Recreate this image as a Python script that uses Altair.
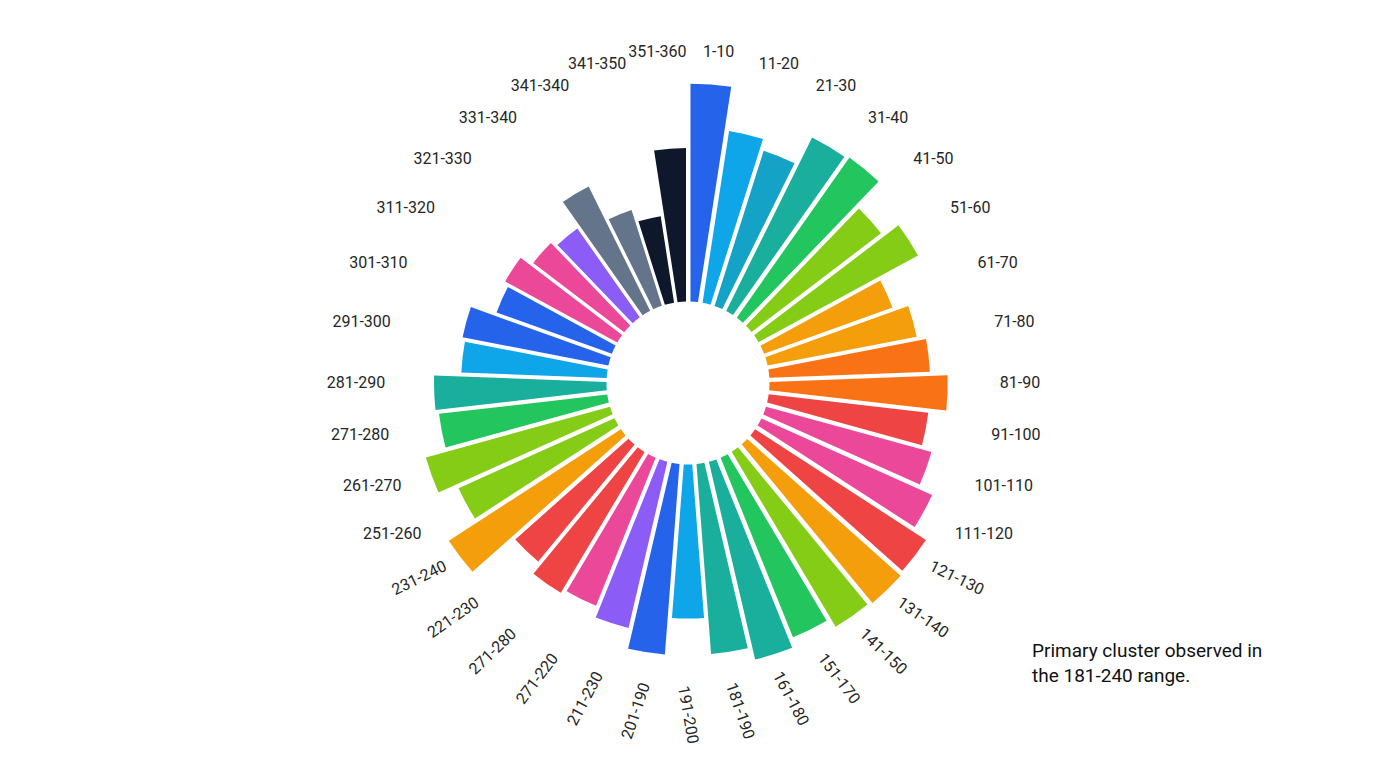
import altair as alt
import pandas as pd
import math

# ---- data ----
bar_values = [99, 79, 74, 88, 89, 74, 82.5, 62, 69, 73, 81, 73, 78, 85, 92.5,
              93.4, 92.5, 88, 92.3, 86.6, 70, 86.8, 77.5, 72.5, 74.5, 68.9, 93.2,
              77.7, 86.8, 77, 78.4, 66.1, 67.5, 55.7, 58, 52, 49.3, 63, 45.7,
              39.8, 69.8]
bar_groups = ["blue", "sky", "cyan", "teal", "green", "lime", "lime", "amber",
              "amber", "orange", "orange", "red", "pink", "pink", "red", "amber",
              "lime", "green", "teal", "teal", "sky", "blue", "violet", "pink",
              "red", "red", "amber", "lime", "lime", "green", "teal", "sky",
              "blue", "blue", "pink", "pink", "violet", "slate", "slate", "navy",
              "navy"]
labels = ["1-10", "11-20", "21-30", "31-40", "41-50", "51-60", "61-70", "71-80",
          "81-90", "91-100", "101-110", "111-120", "121-130", "131-140",
          "141-150", "151-170", "161-180", "181-190", "191-200", "201-190",
          "211-230", "271-220", "271-280", "221-230", "231-240", "251-260",
          "261-270", "271-280", "281-290", "291-300", "301-310", "311-320",
          "321-330", "331-340", "341-340", "341-350", "351-360"]
note_lines = ["Primary cluster observed in", "the 181-240 range."]

# ---- style ----
group_names = ["blue", "sky", "cyan", "teal", "green", "lime", "amber", "orange",
               "red", "pink", "violet", "slate", "navy"]
group_colors = ["#2563eb", "#0ea5e9", "#14a3c7", "#1aaf9d", "#22c55e", "#84cc16",
                "#f59e0b", "#f97316", "#ef4444", "#ec4899", "#8b5cf6", "#64748b",
                "#0f172a"]
R0 = 81.5
n_bars = len(bar_values)
n_labels = len(labels)

bars_df = pd.DataFrame({"idx": list(range(n_bars)),
                        "value": bar_values, "group": bar_groups})
labels_df = pd.DataFrame({"idx": list(range(n_labels)), "label": labels})
note_df = pd.DataFrame({"k": [0]})

bars = alt.Chart(bars_df).transform_calculate(
    t0="datum.idx", t1="datum.idx + 1"
).mark_arc(innerRadius=R0, padAngle=0.016).encode(
    theta=alt.Theta("t0:Q", scale=alt.Scale(domain=[0, n_bars], range=[0, 2 * math.pi],
                                            zero=False, nice=False)),
    theta2="t1:Q",
    radius=alt.Radius("value:Q", scale=alt.Scale(type="linear", domain=[0, 100],
                                                 range=[R0, 301.5]), stack=False),
    color=alt.Color("group:N", scale=alt.Scale(domain=group_names, range=group_colors),
                    legend=None),
)

# label ring: quarter-wise spacing as in the reference layout
q1, q2, q3 = 8.5, 18.5, 28.5
deg_expr = (
    f"datum.p < {q1} ? datum.p / {q1} * 90 : "
    f"(datum.p < {q2} ? 90 + (datum.p - {q1}) / ({q2} - {q1}) * 90 : "
    f"(datum.p < {q3} ? 180 + (datum.p - {q2}) / ({q3} - {q2}) * 90 : "
    f"270 + (datum.p - {q3}) / ({n_labels} - {q3}) * 90))"
)

text = alt.Chart(labels_df).transform_calculate(
    p="datum.idx + 0.5"
).transform_calculate(
    deg=deg_expr
).transform_calculate(
    rot="datum.deg > 120 && datum.deg <= 180 ? datum.deg - 100 : "
        "(datum.deg > 180 && datum.deg < 240 ? datum.deg + 100 : 0)"
).mark_text(
    radius=332, font="Roboto", fontSize=16, color="#262626",
    align="center", baseline="middle"
).encode(
    theta=alt.Theta("deg:Q", scale=alt.Scale(domain=[0, 360], range=[0, 2 * math.pi],
                                             zero=False, nice=False)),
    text="label:N",
    angle=alt.Angle("rot:Q", scale=None),
)

note = alt.Chart(note_df).mark_text(
    align="left", baseline="alphabetic", font="Roboto", fontSize=19,
    lineHeight=25, color="#111111", text=note_lines
).encode(x=alt.value(1024), y=alt.value(649))

chart = alt.layer(bars, text, note).resolve_scale(theta="independent").properties(
    width=1360, height=750, padding=0, background="white"
).configure_view(stroke=None)

chart.save("out.html", embed_options={"renderer": "svg", "actions": False})
